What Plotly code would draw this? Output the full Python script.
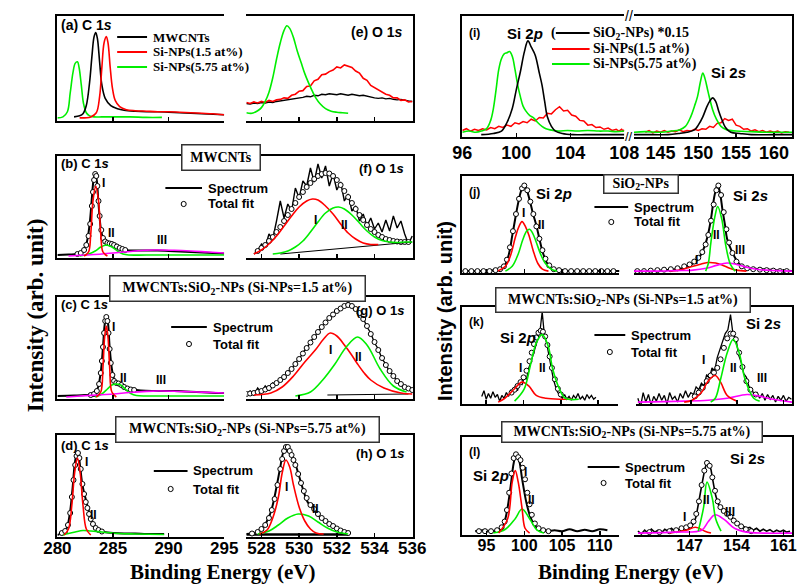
import plotly.graph_objects as go

W, H = 809, 588

# ======================= DATA =======================
# ---- (a) C 1s overview ----
A_MWCNT_X = [281.5, 282.0, 282.3, 282.6, 282.9, 283.1, 283.3, 283.45, 283.6, 283.8, 284.0, 284.3, 284.8, 285.4, 286.0, 287.0, 288.0, 289.0, 290.0, 291.0, 292.0, 293.0, 294.0, 295.0]
A_MWCNT_Y = [0.02, 0.03, 0.05, 0.13, 0.36, 0.6, 0.8, 0.84, 0.78, 0.55, 0.33, 0.2, 0.13, 0.1, 0.085, 0.075, 0.07, 0.07, 0.065, 0.06, 0.055, 0.05, 0.045, 0.04]
A_SI15_X = [282.0, 283.0, 283.5, 283.8, 284.0, 284.2, 284.4, 284.55, 284.75, 284.95, 285.2, 285.6, 286.2, 287.0, 288.0, 289.0, 290.0, 291.0, 292.0, 293.0, 294.0, 295.0]
A_SI15_Y = [0.01, 0.02, 0.06, 0.22, 0.5, 0.74, 0.80, 0.74, 0.5, 0.3, 0.18, 0.12, 0.09, 0.08, 0.075, 0.07, 0.07, 0.065, 0.06, 0.055, 0.05, 0.04]
A_SI575_X = [280.0, 280.5, 280.9, 281.15, 281.4, 281.6, 281.8, 281.95, 282.15, 282.35, 282.6, 282.9, 283.3, 284.0, 285.0, 286.5, 288.0, 289.4]
A_SI575_Y = [0.01, 0.02, 0.07, 0.25, 0.45, 0.54, 0.555, 0.5, 0.33, 0.15, 0.06, 0.03, 0.02, 0.02, 0.02, 0.02, 0.015, 0.015]

# ---- (e) O 1s overview ----
E_X = [527.2, 527.4, 527.6, 527.8, 528.0, 528.2, 528.4, 528.6, 528.8, 529.0, 529.2, 529.4, 529.6, 529.8, 530.0, 530.2, 530.4, 530.6, 530.8, 531.0, 531.2, 531.4, 531.6, 531.8, 532.0, 532.2, 532.4, 532.6, 532.8, 533.0, 533.2, 533.4, 533.6, 533.8, 534.0, 534.2, 534.4, 534.6, 534.8, 535.0, 535.2, 535.4, 535.6, 535.8, 536.0]
E_SI15_Y = [0.16, 0.15, 0.165, 0.155, 0.17, 0.16, 0.18, 0.17, 0.185, 0.19, 0.205, 0.2, 0.23, 0.24, 0.27, 0.275, 0.315, 0.32, 0.37, 0.385, 0.43, 0.435, 0.46, 0.475, 0.505, 0.495, 0.525, 0.51, 0.5, 0.465, 0.445, 0.395, 0.375, 0.325, 0.305, 0.28, 0.265, 0.24, 0.23, 0.205, 0.205, 0.18, 0.185, 0.165, 0.17]
E_MWCNT_Y = [0.15, 0.145, 0.155, 0.15, 0.16, 0.155, 0.165, 0.16, 0.17, 0.175, 0.18, 0.185, 0.19, 0.2, 0.205, 0.21, 0.22, 0.215, 0.23, 0.225, 0.24, 0.235, 0.245, 0.24, 0.235, 0.245, 0.24, 0.23, 0.24, 0.235, 0.225, 0.23, 0.22, 0.21, 0.205, 0.2, 0.205, 0.195, 0.2, 0.19, 0.185, 0.19, 0.18, 0.175, 0.17]
E_SI575_X = [527.2, 527.5, 527.8, 528.0, 528.2, 528.4, 528.6, 528.8, 529.0, 529.2, 529.35, 529.5, 529.7, 529.9, 530.1, 530.3, 530.5, 530.7, 530.9, 531.1, 531.4, 531.7, 532.0, 532.3, 532.6]
E_SI575_Y = [0.06, 0.055, 0.08, 0.11, 0.17, 0.26, 0.4, 0.58, 0.74, 0.86, 0.905, 0.88, 0.79, 0.66, 0.55, 0.44, 0.35, 0.27, 0.2, 0.15, 0.1, 0.075, 0.065, 0.06, 0.055]

# ---- (b) C 1s MWCNTs ----
B_SPEC_X = [280.0, 281.0, 281.8, 282.2, 282.6, 282.9, 283.1, 283.25, 283.4, 283.55, 283.7, 283.9, 284.1, 284.3, 284.6, 284.9, 285.2, 285.6, 286.0, 286.5, 287.0, 288.0, 289.0, 290.0, 291.0, 292.0, 293.0, 294.0, 295.0]
B_SPEC_Y = [0.01, 0.015, 0.02, 0.04, 0.12, 0.32, 0.58, 0.76, 0.83, 0.75, 0.52, 0.28, 0.18, 0.15, 0.13, 0.12, 0.1, 0.075, 0.06, 0.055, 0.055, 0.055, 0.055, 0.05, 0.045, 0.04, 0.035, 0.03, 0.025]
B_FIT_X = [281.8, 282.1, 282.4, 282.6, 282.8, 282.95, 283.1, 283.2, 283.3, 283.4, 283.5, 283.6, 283.7, 283.8, 283.95, 284.1, 284.3, 284.5, 284.7, 284.9, 285.1, 285.35, 285.6, 285.85, 286.1]
B_FIT_Y = [0.02, 0.03, 0.06, 0.11, 0.2, 0.32, 0.5, 0.64, 0.76, 0.82, 0.8, 0.7, 0.55, 0.4, 0.26, 0.18, 0.145, 0.13, 0.125, 0.12, 0.11, 0.095, 0.08, 0.07, 0.06]
B_I_X = [282.4, 282.8, 283.0, 283.2, 283.45, 283.7, 283.9, 284.1, 284.5]
B_I_Y = [0.0, 0.04, 0.22, 0.55, 0.70, 0.55, 0.22, 0.04, 0.0]
B_II_X = [282.0, 282.8, 283.4, 283.9, 284.4, 284.9, 285.4, 285.9, 286.4, 288.0, 291.0, 295.0]
B_II_Y = [0.0, 0.02, 0.05, 0.09, 0.11, 0.09, 0.05, 0.02, 0.01, 0.01, 0.01, 0.01]
B_III_X = [281.0, 282.5, 284.0, 285.5, 287.0, 288.8, 290.5, 292.0, 293.5, 295.0]
B_III_Y = [0.0, 0.01, 0.02, 0.035, 0.05, 0.06, 0.057, 0.05, 0.04, 0.03]

# ---- (f) O 1s MWCNTs ----
F_SPEC_X = [527.6, 527.8, 528.0, 528.2, 528.4, 528.6, 528.8, 529.0, 529.2, 529.4, 529.6, 529.8, 530.0, 530.2, 530.4, 530.6, 530.8, 531.0, 531.2, 531.4, 531.6, 531.8, 532.0, 532.2, 532.4, 532.6, 532.8, 533.0, 533.2, 533.4, 533.6, 533.8, 534.0, 534.2, 534.4, 534.6, 534.8, 535.0, 535.2, 535.4, 535.6, 535.8, 536.0]
F_SPEC_Y = [0.02, 0.05, 0.12, 0.09, 0.22, 0.17, 0.35, 0.55, 0.38, 0.52, 0.45, 0.68, 0.58, 0.75, 0.70, 0.88, 0.74, 0.92, 0.78, 0.90, 0.70, 0.82, 0.66, 0.74, 0.55, 0.62, 0.45, 0.50, 0.35, 0.42, 0.30, 0.38, 0.27, 0.33, 0.24, 0.36, 0.25, 0.40, 0.28, 0.35, 0.22, 0.12, 0.20]
F_FIT_X = [527.8, 528.0, 528.2, 528.4, 528.6, 528.8, 529.0, 529.2, 529.4, 529.6, 529.8, 530.0, 530.2, 530.4, 530.6, 530.8, 531.0, 531.2, 531.4, 531.6, 531.8, 532.0, 532.2, 532.4, 532.6, 532.8, 533.0, 533.2, 533.4, 533.6, 533.8, 534.0, 534.2, 534.4, 534.6, 534.8, 535.0, 535.2, 535.4, 535.6, 535.8]
F_FIT_Y = [0.05, 0.08, 0.11, 0.15, 0.19, 0.24, 0.29, 0.35, 0.41, 0.47, 0.53, 0.59, 0.64, 0.69, 0.73, 0.77, 0.80, 0.82, 0.83, 0.825, 0.80, 0.76, 0.71, 0.65, 0.59, 0.53, 0.47, 0.41, 0.36, 0.31, 0.27, 0.24, 0.21, 0.19, 0.17, 0.16, 0.15, 0.145, 0.14, 0.14, 0.14]
F_I_X = [527.6, 528.0, 528.4, 528.8, 529.2, 529.6, 530.0, 530.4, 530.7, 531.0, 531.4, 531.8, 532.2, 532.6, 533.0, 533.4, 533.8, 534.2]
F_I_Y = [0.02, 0.06, 0.12, 0.2, 0.3, 0.4, 0.49, 0.55, 0.57, 0.56, 0.5, 0.42, 0.32, 0.23, 0.17, 0.13, 0.115, 0.115]
F_II_X = [528.6, 529.0, 529.4, 529.8, 530.2, 530.6, 531.0, 531.4, 531.8, 532.1, 532.4, 532.8, 533.2, 533.6, 534.0, 534.4, 534.8, 535.2, 535.6, 536.0]
F_II_Y = [0.02, 0.03, 0.05, 0.09, 0.15, 0.24, 0.34, 0.43, 0.48, 0.49, 0.47, 0.41, 0.33, 0.25, 0.19, 0.155, 0.14, 0.135, 0.14, 0.14]
F_BG_X = [529.0, 536.0]
F_BG_Y = [0.02, 0.14]

# ---- (c) C 1s, Si-NPs 1.5 at% ----
C_SPEC_X = [280.0, 281.5, 282.5, 283.2, 283.6, 283.9, 284.1, 284.25, 284.4, 284.55, 284.7, 284.9, 285.1, 285.3, 285.6, 285.9, 286.3, 286.8, 287.5, 288.5, 289.5, 290.5, 291.5, 292.5, 293.5, 294.5, 295.0]
C_SPEC_Y = [0.01, 0.015, 0.02, 0.03, 0.08, 0.25, 0.5, 0.72, 0.81, 0.74, 0.5, 0.28, 0.18, 0.15, 0.14, 0.12, 0.09, 0.075, 0.065, 0.06, 0.06, 0.06, 0.055, 0.05, 0.045, 0.04, 0.04]
C_FIT_X = [283.0, 283.3, 283.55, 283.75, 283.9, 284.0, 284.1, 284.2, 284.3, 284.4, 284.5, 284.6, 284.7, 284.8, 284.95, 285.1, 285.3, 285.5, 285.75, 286.0, 286.3, 286.6, 286.9]
C_FIT_Y = [0.02, 0.03, 0.06, 0.13, 0.24, 0.36, 0.5, 0.64, 0.76, 0.8, 0.76, 0.64, 0.48, 0.34, 0.22, 0.16, 0.14, 0.135, 0.12, 0.1, 0.085, 0.075, 0.07]
C_I_X = [283.5, 283.9, 284.1, 284.25, 284.4, 284.55, 284.7, 284.9, 285.3]
C_I_Y = [0.0, 0.05, 0.3, 0.6, 0.71, 0.6, 0.3, 0.05, 0.0]
C_II_X = [283.4, 284.0, 284.5, 284.9, 285.3, 285.7, 286.1, 286.6, 287.1, 288.0, 290.0, 292.5, 295.0]
C_II_Y = [0.0, 0.03, 0.08, 0.12, 0.13, 0.12, 0.08, 0.035, 0.015, 0.01, 0.01, 0.01, 0.01]
C_III_X = [280.8, 282.0, 283.5, 285.0, 286.5, 288.0, 289.1, 290.5, 292.0, 293.5, 295.0]
C_III_Y = [0.0, 0.01, 0.02, 0.03, 0.045, 0.056, 0.06, 0.058, 0.052, 0.046, 0.04]

# ---- (g) O 1s, Si-NPs 1.5 at% ----
G_X = [527.2, 527.4, 527.6, 527.8, 528.0, 528.2, 528.4, 528.6, 528.8, 529.0, 529.2, 529.4, 529.6, 529.8, 530.0, 530.2, 530.4, 530.6, 530.8, 531.0, 531.2, 531.4, 531.6, 531.8, 532.0, 532.2, 532.4, 532.6, 532.8, 533.0, 533.2, 533.4, 533.6, 533.8, 534.0, 534.2, 534.4, 534.6, 534.8, 535.0, 535.2, 535.4, 535.6, 535.8, 536.0]
G_SPEC_Y = [0.01, 0.06, 0.02, 0.09, 0.04, 0.11, 0.07, 0.14, 0.12, 0.19, 0.18, 0.26, 0.27, 0.35, 0.37, 0.45, 0.48, 0.56, 0.59, 0.66, 0.69, 0.76, 0.78, 0.84, 0.85, 0.9, 0.9, 0.95, 0.9, 0.89, 0.83, 0.79, 0.7, 0.64, 0.54, 0.48, 0.38, 0.33, 0.25, 0.22, 0.15, 0.14, 0.09, 0.1, 0.06]
G_FIT_Y = [0.03, 0.035, 0.04, 0.05, 0.06, 0.075, 0.09, 0.115, 0.14, 0.17, 0.2, 0.24, 0.28, 0.33, 0.38, 0.435, 0.49, 0.545, 0.6, 0.65, 0.7, 0.745, 0.79, 0.825, 0.86, 0.885, 0.91, 0.92, 0.91, 0.88, 0.84, 0.78, 0.71, 0.63, 0.55, 0.47, 0.39, 0.32, 0.26, 0.21, 0.16, 0.13, 0.1, 0.085, 0.07]
G_I_X = [527.6, 528.5, 529.1, 529.7, 530.3, 530.9, 531.3, 531.65, 532.0, 532.4, 532.75, 533.1, 533.45, 533.8, 534.5, 535.4, 536.0]
G_I_Y = [0.02, 0.04, 0.1, 0.21, 0.35, 0.48, 0.58, 0.64, 0.61, 0.52, 0.43, 0.33, 0.24, 0.17, 0.09, 0.04, 0.03]
G_II_X = [529.8, 530.6, 531.25, 531.9, 532.5, 533.1, 533.6, 534.3, 535.0, 535.7]
G_II_Y = [0.01, 0.05, 0.17, 0.33, 0.5, 0.6, 0.52, 0.28, 0.11, 0.05]
G_BG_X = [531.5, 535.8]
G_BG_Y = [0.02, 0.03]

# ---- (d) C 1s, Si-NPs 5.75 at% ----
D_SPEC_X = [280.0, 280.4, 280.8, 281.1, 281.35, 281.55, 281.7, 281.8, 281.9, 282.05, 282.25, 282.5, 282.75, 283.0, 283.3, 283.7, 284.2, 285.0, 286.0, 287.0, 288.0, 289.0, 289.6]
D_SPEC_Y = [0.0, 0.02, 0.06, 0.2, 0.45, 0.7, 0.8, 0.82, 0.8, 0.68, 0.5, 0.38, 0.27, 0.17, 0.08, 0.045, 0.03, 0.02, 0.015, 0.015, 0.01, 0.01, 0.01]
D_FIT_X = [280.4, 280.7, 280.95, 281.15, 281.3, 281.45, 281.6, 281.72, 281.85, 281.98, 282.1, 282.25, 282.4, 282.55, 282.7, 282.85, 283.0, 283.2, 283.45, 283.7, 284.0]
D_FIT_Y = [0.02, 0.04, 0.1, 0.22, 0.38, 0.55, 0.7, 0.79, 0.82, 0.77, 0.66, 0.51, 0.41, 0.33, 0.27, 0.21, 0.16, 0.11, 0.07, 0.05, 0.035]
D_I_X = [280.6, 281.0, 281.3, 281.55, 281.8, 282.05, 282.3, 282.6, 283.0]
D_I_Y = [0.0, 0.06, 0.3, 0.62, 0.77, 0.62, 0.3, 0.06, 0.0]
D_II_X = [280.5, 281.0, 281.6, 282.3, 283.0, 284.0, 285.5, 287.0, 289.6]
D_II_Y = [0.0, 0.015, 0.03, 0.045, 0.04, 0.03, 0.015, 0.01, 0.005]

# ---- (h) O 1s, Si-NPs 5.75 at% ----
H_SPEC_X = [527.2, 527.5, 527.8, 528.1, 528.4, 528.6, 528.8, 529.0, 529.15, 529.35, 529.55, 529.75, 529.95, 530.2, 530.45, 530.7, 531.0, 531.3, 531.6, 531.9, 532.2, 532.6]
H_SPEC_Y = [0.01, 0.015, 0.03, 0.08, 0.18, 0.3, 0.48, 0.68, 0.82, 0.89, 0.83, 0.74, 0.62, 0.46, 0.33, 0.27, 0.2, 0.15, 0.11, 0.08, 0.05, 0.02]
H_FIT_X = [527.5, 527.8, 528.0, 528.2, 528.4, 528.55, 528.7, 528.85, 529.0, 529.1, 529.2, 529.3, 529.4, 529.5, 529.6, 529.7, 529.8, 529.95, 530.1, 530.25, 530.4, 530.6, 530.8, 531.0, 531.2, 531.4, 531.6, 531.8, 532.0, 532.2, 532.4, 532.6]
H_FIT_Y = [0.015, 0.03, 0.06, 0.1, 0.17, 0.25, 0.36, 0.5, 0.66, 0.76, 0.84, 0.88, 0.88, 0.84, 0.8, 0.75, 0.7, 0.61, 0.52, 0.44, 0.37, 0.3, 0.26, 0.21, 0.17, 0.14, 0.11, 0.09, 0.065, 0.045, 0.03, 0.02]
H_I_X = [527.9, 528.3, 528.6, 528.9, 529.1, 529.3, 529.5, 529.7, 530.0, 530.3, 530.6, 530.9, 531.3]
H_I_Y = [0.01, 0.05, 0.17, 0.38, 0.62, 0.75, 0.68, 0.5, 0.28, 0.14, 0.06, 0.02, 0.01]
H_II_X = [527.8, 528.4, 528.9, 529.4, 529.95, 530.5, 531.0, 531.5, 532.0, 532.6]
H_II_Y = [0.01, 0.04, 0.1, 0.17, 0.21, 0.19, 0.13, 0.07, 0.03, 0.01]
H_BG_X = [527.2, 532.6]
H_BG_Y = [0.005, 0.005]

# ---- (i) Si 2p / Si 2s overview ----
IL_SIO2_X = [97.4, 98.3, 98.9, 99.3, 99.7, 100.0, 100.3, 100.6, 100.86, 101.1, 101.4, 101.7, 101.9, 102.1, 102.3, 102.6, 102.9, 103.4, 104.2, 105.1, 106.1, 107.0, 108.0]
IL_SIO2_Y = [0.0, 0.01, 0.03, 0.1, 0.22, 0.38, 0.53, 0.7, 0.79, 0.74, 0.67, 0.52, 0.42, 0.28, 0.15, 0.07, 0.03, 0.01, 0.0, 0.0, 0.0, 0.0, 0.0]
IL_SI575_X = [96.0, 96.5, 97.0, 97.4, 97.8, 98.1, 98.3, 98.5, 98.7, 98.9, 99.1, 99.3, 99.5, 99.7, 99.9, 100.1, 100.3, 100.5, 100.7, 101.0, 101.3, 101.6, 101.9, 102.2, 102.5, 103.1, 103.8, 104.5, 105.3, 106.1, 106.8, 107.4, 108.0]
IL_SI575_Y = [0.02, 0.03, 0.02, 0.03, 0.05, 0.12, 0.22, 0.38, 0.55, 0.64, 0.68, 0.69, 0.7, 0.66, 0.55, 0.42, 0.32, 0.24, 0.2, 0.16, 0.14, 0.1, 0.07, 0.05, 0.04, 0.03, 0.035, 0.03, 0.035, 0.03, 0.03, 0.025, 0.03]
IL_SI15_X = [96.0, 96.3, 96.6, 96.9, 97.2, 97.5, 97.8, 98.1, 98.4, 98.7, 99.0, 99.3, 99.6, 99.9, 100.2, 100.5, 100.8, 101.1, 101.4, 101.7, 102.0, 102.3, 102.6, 102.9, 103.2, 103.5, 103.8, 104.1, 104.4, 104.7, 105.0, 105.3, 105.6, 105.9, 106.2, 106.5, 106.8, 107.1, 107.4, 107.6, 107.8, 107.9, 108.0]
IL_SI15_Y = [0.035, 0.05, 0.03, 0.045, 0.035, 0.05, 0.04, 0.06, 0.05, 0.07, 0.06, 0.08, 0.07, 0.1, 0.09, 0.11, 0.1, 0.13, 0.115, 0.145, 0.14, 0.18, 0.175, 0.21, 0.235, 0.2, 0.205, 0.165, 0.155, 0.12, 0.115, 0.08, 0.085, 0.06, 0.065, 0.045, 0.055, 0.035, 0.045, 0.03, 0.045, 0.03, 0.04]
IR_SI575_X = [141.5, 143.0, 145.0, 146.5, 147.5, 148.3, 149.0, 149.5, 149.9, 150.3, 150.6, 150.9, 151.3, 151.9, 152.4, 153.0, 153.8, 155.0, 157.0, 159.0, 161.0, 162.4]
IR_SI575_Y = [0.02, 0.025, 0.02, 0.03, 0.04, 0.07, 0.15, 0.24, 0.32, 0.45, 0.52, 0.47, 0.36, 0.21, 0.13, 0.07, 0.04, 0.03, 0.025, 0.02, 0.02, 0.02]
IR_SIO2_X = [141.5, 144.0, 146.0, 147.5, 148.5, 149.5, 150.0, 150.6, 151.1, 151.5, 151.9, 152.3, 152.7, 153.1, 153.6, 154.3, 155.5, 157.0, 160.0, 162.4]
IR_SIO2_Y = [0.0, 0.0, 0.0, 0.01, 0.02, 0.04, 0.08, 0.15, 0.23, 0.28, 0.31, 0.28, 0.2, 0.13, 0.06, 0.02, 0.01, 0.0, 0.0, 0.0]
IR_SI15_X = [143.0, 143.5, 144.0, 144.5, 145.0, 145.5, 146.0, 146.5, 147.0, 147.5, 148.0, 148.5, 149.0, 149.5, 150.0, 150.5, 151.0, 151.5, 152.0, 152.5, 153.0, 153.5, 154.0, 154.5, 155.0, 155.5, 156.0, 156.5, 157.0, 157.5, 158.0, 158.5, 159.0, 159.5, 160.0, 160.5, 161.0, 161.5, 162.0]
IR_SI15_Y = [0.02, 0.035, 0.015, 0.03, 0.02, 0.035, 0.02, 0.03, 0.025, 0.04, 0.025, 0.035, 0.03, 0.045, 0.035, 0.05, 0.045, 0.07, 0.06, 0.095, 0.1, 0.135, 0.12, 0.13, 0.08, 0.07, 0.045, 0.05, 0.03, 0.04, 0.025, 0.035, 0.02, 0.03, 0.02, 0.03, 0.015, 0.025, 0.02]

# ---- (j) SiO2-NPs ----
JL_SPEC_X = [91.8, 93.0, 94.5, 96.0, 97.0, 97.5, 98.0, 98.4, 98.8, 99.2, 99.6, 99.96, 100.3, 100.7, 101.1, 101.6, 102.0, 102.4, 102.9, 103.5, 104.5, 106.0, 108.0, 110.0, 112.6]
JL_SPEC_Y = [0.0, 0.0, 0.0, 0.01, 0.03, 0.07, 0.19, 0.37, 0.55, 0.72, 0.85, 0.91, 0.86, 0.75, 0.62, 0.48, 0.34, 0.21, 0.1, 0.03, 0.01, 0.0, 0.0, 0.0, 0.0]
JL_FIT_X = [92.2, 93.0, 93.8, 94.6, 95.4, 96.2, 96.8, 97.3, 97.7, 98.1, 98.5, 98.9, 99.3, 99.7, 100.0, 100.4, 100.8, 101.2, 101.6, 102.0, 102.4, 102.8, 103.3, 103.9, 104.6, 105.4, 106.2, 107.0, 107.8, 108.6, 109.4, 110.2, 111.0, 111.8]
JL_FIT_Y = [0.0, 0.0, 0.0, 0.0, 0.0, 0.01, 0.02, 0.05, 0.12, 0.25, 0.42, 0.6, 0.76, 0.87, 0.9, 0.85, 0.73, 0.6, 0.47, 0.34, 0.22, 0.13, 0.06, 0.02, 0.01, 0.0, 0.0, 0.0, 0.0, 0.0, 0.0, 0.0, 0.0, 0.0]
JL_I_X = [96.5, 97.5, 98.2, 98.8, 99.2, 99.7, 100.2, 100.6, 101.2, 101.8, 102.4, 103.2]
JL_I_Y = [0.0, 0.05, 0.17, 0.35, 0.45, 0.52, 0.46, 0.38, 0.21, 0.08, 0.02, 0.0]
JL_II_X = [97.5, 98.4, 99.2, 99.8, 100.3, 100.7, 101.1, 101.6, 102.2, 102.8, 103.6, 104.3]
JL_II_Y = [0.0, 0.05, 0.18, 0.33, 0.42, 0.44, 0.4, 0.3, 0.17, 0.08, 0.02, 0.0]
JR_SPEC_X = [138.7, 141.0, 143.0, 145.0, 146.5, 147.9, 148.6, 149.3, 149.8, 150.2, 150.5, 150.8, 151.2, 151.6, 151.9, 152.3, 152.6, 153.3, 154.5, 156.0, 158.0, 160.0, 162.3]
JR_SPEC_Y = [0.0, 0.0, 0.01, 0.02, 0.04, 0.1, 0.16, 0.27, 0.4, 0.55, 0.7, 0.82, 0.91, 0.8, 0.65, 0.48, 0.34, 0.21, 0.07, 0.03, 0.02, 0.01, 0.0]
JR_FIT_X = [139.2, 140.2, 141.2, 142.2, 143.2, 144.2, 145.2, 146.2, 147.0, 147.7, 148.3, 148.9, 149.4, 149.8, 150.2, 150.6, 151.0, 151.3, 151.7, 152.1, 152.5, 152.9, 153.4, 154.0, 154.8, 155.6, 156.5, 157.5, 158.5, 159.5, 160.5, 161.5]
JR_FIT_Y = [0.0, 0.0, 0.005, 0.01, 0.015, 0.02, 0.03, 0.05, 0.07, 0.1, 0.14, 0.2, 0.28, 0.38, 0.53, 0.7, 0.85, 0.9, 0.8, 0.62, 0.44, 0.3, 0.19, 0.1, 0.05, 0.03, 0.02, 0.015, 0.01, 0.005, 0.0, 0.0]
JR_I_X = [144.0, 145.5, 147.0, 148.5, 149.7, 150.9, 152.0, 153.0, 154.0, 155.5]
JR_I_Y = [0.0, 0.01, 0.04, 0.07, 0.09, 0.085, 0.06, 0.03, 0.01, 0.0]
JR_II_X = [149.4, 149.8, 150.2, 150.8, 151.2, 151.8, 152.4, 153.1, 153.8]
JR_II_Y = [0.0, 0.08, 0.31, 0.58, 0.68, 0.55, 0.27, 0.07, 0.0]
JR_III_X = [138.7, 142.0, 145.0, 147.5, 149.5, 151.0, 152.6, 154.0, 155.5, 157.5, 160.0, 162.3]
JR_III_Y = [0.0, 0.0, 0.005, 0.01, 0.03, 0.06, 0.085, 0.07, 0.04, 0.015, 0.005, 0.0]

# ---- (k) Si-NPs 1.5 at% ----
KL_SPEC_X = [94.4, 94.7, 95.0, 95.3, 95.6, 95.9, 96.2, 96.5, 96.8, 97.1, 97.4, 97.7, 98.0, 98.3, 98.6, 98.9, 99.2, 99.5, 99.8, 100.1, 100.4, 100.7, 101.0, 101.3, 101.6, 101.9, 102.2, 102.5, 102.8, 103.1, 103.4, 103.7, 104.0, 104.3, 104.6, 104.9, 105.2, 105.5, 105.8, 106.1, 106.4, 106.7, 107.0, 107.3, 107.6, 107.9, 108.2, 108.5, 108.8, 109.1, 109.4, 109.7]
KL_SPEC_Y = [0.06, 0.12, 0.03, 0.09, 0.04, 0.11, 0.05, 0.08, 0.01, 0.07, 0.04, 0.1, 0.06, 0.13, 0.09, 0.17, 0.12, 0.22, 0.18, 0.27, 0.24, 0.36, 0.42, 0.5, 0.6, 0.66, 0.74, 0.95, 0.7, 0.62, 0.48, 0.36, 0.24, 0.16, 0.1, 0.07, 0.04, 0.08, 0.03, 0.06, 0.02, 0.07, 0.04, 0.09, 0.03, 0.06, 0.02, 0.08, 0.04, 0.07, 0.03, 0.05]
KL_FIT_X = [98.4, 98.8, 99.2, 99.6, 100.0, 100.4, 100.8, 101.1, 101.4, 101.7, 102.0, 102.3, 102.6, 102.9, 103.2, 103.5, 103.8, 104.2, 104.6, 105.0]
KL_FIT_Y = [0.1, 0.13, 0.17, 0.21, 0.26, 0.33, 0.43, 0.52, 0.61, 0.68, 0.73, 0.75, 0.74, 0.69, 0.6, 0.48, 0.36, 0.24, 0.14, 0.08]
KL_I_X = [96.6, 97.3, 97.9, 98.8, 99.8, 100.7, 101.7, 103.0, 105.2, 106.5]
KL_I_Y = [0.0, 0.03, 0.07, 0.14, 0.21, 0.17, 0.07, 0.04, 0.03, 0.03]
KL_II_X = [98.8, 100.1, 100.9, 101.7, 102.5, 103.3, 103.9, 104.8, 105.6, 107.4]
KL_II_Y = [0.01, 0.14, 0.38, 0.62, 0.71, 0.59, 0.35, 0.14, 0.04, 0.03]
KR_SPEC_X = [139.0, 139.4, 139.8, 140.2, 140.6, 141.0, 141.4, 141.8, 142.2, 142.6, 143.0, 143.4, 143.8, 144.2, 144.6, 145.0, 145.4, 145.8, 146.2, 146.6, 147.0, 147.4, 147.8, 148.2, 148.6, 149.0, 149.4, 149.8, 150.2, 150.6, 151.0, 151.4, 151.8, 152.2, 152.6, 153.0, 153.4, 153.8, 154.2, 154.6, 155.0, 155.4, 155.8, 156.2, 156.6, 157.0, 157.4, 157.8, 158.2, 158.6, 159.0, 159.4, 159.8, 160.2, 160.6, 161.0, 161.4, 161.8, 162.2]
KR_SPEC_Y = [0.04, -0.05, 0.1, 0.0, 0.08, -0.03, 0.06, 0.01, 0.09, 0.02, 0.07, -0.02, 0.1, 0.03, 0.06, 0.0, 0.09, 0.04, 0.12, 0.05, 0.1, 0.08, 0.16, 0.13, 0.2, 0.17, 0.29, 0.25, 0.36, 0.33, 0.47, 0.55, 0.62, 0.72, 0.76, 0.92, 0.7, 0.68, 0.5, 0.42, 0.3, 0.26, 0.16, 0.14, 0.07, 0.1, 0.04, 0.09, 0.02, 0.08, 0.03, 0.07, 0.0, 0.06, 0.02, 0.07, 0.01, 0.05, 0.03]
KR_FIT_X = [147.6, 148.2, 148.8, 149.4, 150.0, 150.5, 151.0, 151.5, 152.0, 152.5, 153.0, 153.4, 153.8, 154.3, 154.8, 155.4, 156.0, 156.8]
KR_FIT_Y = [0.06, 0.1, 0.15, 0.22, 0.28, 0.31, 0.36, 0.45, 0.57, 0.67, 0.72, 0.72, 0.66, 0.52, 0.37, 0.22, 0.13, 0.08]
KR_I_X = [146.0, 147.2, 148.6, 149.6, 150.7, 151.5, 152.5, 154.0]
KR_I_Y = [0.0, 0.02, 0.1, 0.22, 0.28, 0.21, 0.07, 0.01]
KR_II_X = [150.0, 150.7, 151.5, 152.5, 153.4, 154.3, 155.2, 156.5, 157.4]
KR_II_Y = [0.0, 0.04, 0.24, 0.52, 0.66, 0.52, 0.24, 0.04, 0.01]
KR_III_X = [139.0, 143.0, 146.0, 149.6, 152.5, 155.5, 157.5, 159.4, 162.3]
KR_III_Y = [0.0, 0.005, 0.01, 0.02, 0.04, 0.08, 0.06, 0.03, 0.0]

# ---- (l) Si-NPs 5.75 at% ----
LL_SPEC_X = [93.5, 94.6, 95.5, 96.6, 97.1, 97.5, 97.9, 98.2, 98.6, 98.9, 99.3, 99.7, 100.3, 100.9, 101.7, 103.0, 104.0, 105.0, 106.0, 107.0, 108.0, 109.0, 110.0, 111.0]
LL_SPEC_Y = [0.02, 0.03, 0.02, 0.03, 0.06, 0.15, 0.32, 0.49, 0.73, 0.81, 0.76, 0.57, 0.31, 0.15, 0.05, 0.02, 0.03, 0.02, 0.04, 0.02, 0.035, 0.02, 0.04, 0.03]
LL_FIT_X = [94.0, 94.8, 95.6, 96.4, 97.0, 97.4, 97.7, 98.0, 98.3, 98.6, 98.9, 99.2, 99.5, 99.8, 100.1, 100.4, 100.7, 101.0, 101.4, 101.9, 102.5, 103.2]
LL_FIT_Y = [0.02, 0.02, 0.02, 0.03, 0.06, 0.12, 0.24, 0.42, 0.62, 0.78, 0.82, 0.79, 0.76, 0.68, 0.56, 0.42, 0.3, 0.19, 0.1, 0.05, 0.03, 0.02]
LL_I_X = [96.6, 97.8, 98.4, 98.8, 99.2, 99.7, 100.1, 100.7]
LL_I_Y = [0.0, 0.15, 0.53, 0.65, 0.53, 0.26, 0.05, 0.0]
LL_II_X = [95.9, 97.5, 98.8, 99.7, 100.7, 101.7, 102.6]
LL_II_Y = [0.0, 0.04, 0.15, 0.25, 0.15, 0.03, 0.0]
LR_SPEC_X = [139.3, 139.8, 140.3, 140.8, 141.3, 141.8, 142.3, 142.8, 143.3, 143.8, 144.3, 144.8, 145.3, 145.8, 146.3, 146.8, 147.3, 147.7, 148.0, 148.4, 148.8, 149.2, 149.6, 149.9, 150.2, 150.6, 150.9, 151.3, 151.7, 152.2, 152.7, 153.2, 153.7, 154.1, 154.5, 155.0, 155.5, 156.0, 156.5, 157.0, 157.5, 158.0, 158.5, 159.0, 159.5, 160.0, 160.5, 161.0, 161.5, 162.0]
LR_SPEC_Y = [0.02, -0.01, 0.03, 0.0, 0.04, 0.01, 0.03, 0.0, 0.04, 0.02, 0.05, 0.02, 0.04, 0.03, 0.05, 0.04, 0.07, 0.11, 0.18, 0.32, 0.49, 0.64, 0.75, 0.72, 0.66, 0.5, 0.39, 0.3, 0.25, 0.22, 0.2, 0.17, 0.14, 0.1, 0.08, 0.07, 0.05, 0.06, 0.03, 0.05, 0.02, 0.04, 0.02, 0.035, 0.01, 0.03, 0.015, 0.03, 0.01, 0.02]
LR_FIT_X = [141.0, 142.5, 144.0, 145.0, 145.8, 146.5, 147.1, 147.6, 148.0, 148.4, 148.8, 149.2, 149.6, 150.0, 150.4, 150.8, 151.2, 151.6, 152.1, 152.6, 153.1, 153.6, 154.1, 154.7, 155.4, 156.2]
LR_FIT_Y = [0.01, 0.01, 0.02, 0.03, 0.05, 0.06, 0.08, 0.12, 0.2, 0.33, 0.5, 0.65, 0.73, 0.7, 0.58, 0.44, 0.33, 0.27, 0.23, 0.2, 0.17, 0.13, 0.1, 0.07, 0.04, 0.02]
LR_I_X = [144.0, 146.5, 147.9, 149.3, 150.2]
LR_I_Y = [0.0, 0.03, 0.06, 0.02, 0.0]
LR_II_X = [148.3, 149.1, 149.6, 150.4, 150.9, 151.7]
LR_II_Y = [0.02, 0.27, 0.53, 0.36, 0.15, 0.02]
LR_III_X = [139.3, 145.0, 148.8, 149.8, 150.8, 152.2, 153.7, 155.5, 158.0, 162.3]
LR_III_Y = [0.0, 0.01, 0.03, 0.12, 0.19, 0.14, 0.05, 0.01, 0.0, 0.0]

# tick labels
C1S_TICKS = [280, 285, 290, 295]
O1S_TICKS = [528, 530, 532, 534, 536]
I_L_TICKS = [96, 100, 104, 108]
I_R_TICKS = [145, 150, 155, 160]
SI2P_TICKS = [95, 100, 105, 110]
SI2S_TICKS = [147, 154, 161]

# ======================= FIGURE =======================
SANS = "Liberation Sans"
SERIF = "Liberation Serif"
BLACK, RED, GREEN, MAG = "#000000", "#ff0000", "#00ee00", "#ff00ff"


def X(px):
    return px / W


def Y(py):
    return 1 - py / H


C1S_R = [280, 295]
O1S_R = [527.2, 536.05]
SI2P_R = [91.8, 112.6]
SI2S_R = [138.7, 162.3]

# key: (x0, x1, y0, y1 [px], xrange, y-line side, tickvals, show labels, label size, standoff)
PANELS = [
    ("a", 45, 218, 16, 121, C1S_R, "left", C1S_TICKS, False, 16, -5),
    ("e", 241, 414, 16, 121, O1S_R, "right", O1S_TICKS, False, 16, -5),
    ("b", 45, 218, 156, 258, C1S_R, "left", C1S_TICKS, False, 16, -5),
    ("f", 241, 414, 156, 258, O1S_R, "right", O1S_TICKS, False, 16, -5),
    ("c", 45, 218, 297, 399, C1S_R, "left", C1S_TICKS, False, 16, -5),
    ("g", 241, 414, 297, 399, O1S_R, "right", O1S_TICKS, False, 16, -5),
    ("d", 45, 218, 435, 537, C1S_R, "left", C1S_TICKS, True, 17, -5),
    ("h", 241, 414, 435, 537, O1S_R, "right", O1S_TICKS, True, 17, -5),
    ("iL", 465, 633, 16, 137, [96.0, 108.0], "left", I_L_TICKS, True, 18, -2),
    ("iR", 643, 807, 16, 137, [141.5, 162.4], "right", I_R_TICKS, True, 18, -2),
    ("jL", 465, 628, 176, 273, SI2P_R, "left", SI2P_TICKS, False, 16, -5),
    ("jR", 643, 807, 176, 273, SI2S_R, "right", SI2S_TICKS, False, 16, -5),
    ("kL", 465, 626, 307, 404, SI2P_R, "left", SI2P_TICKS, False, 16, -5),
    ("kR", 645, 807, 307, 404, SI2S_R, "right", SI2S_TICKS, False, 16, -5),
    ("lL", 465, 628, 437, 535, SI2P_R, "left", SI2P_TICKS, True, 16, -5),
    ("lR", 643, 807, 437, 535, SI2S_R, "right", SI2S_TICKS, True, 16, -5),
]

fig = go.Figure()
AXREF = {}
layout_axes = {}
for i, (key, x0, x1, y0, y1, xr, side, tv, showlab, lsize, stand) in enumerate(PANELS):
    k = i + 1
    sfx = "" if k == 1 else str(k)
    AXREF[key] = ("x" + sfx, "y" + sfx)
    layout_axes["xaxis" + sfx] = dict(
        domain=[X(x0), X(x1)], range=xr, anchor="y" + sfx,
        showline=True, linecolor=BLACK, linewidth=2, mirror=True,
        ticks="inside", ticklen=4, tickwidth=1.5, tickcolor=BLACK,
        tickmode="array", tickvals=tv, showticklabels=showlab,
        ticklabelstandoff=stand,
        tickfont=dict(family=SANS, size=lsize, color=BLACK, weight="bold"),
        showgrid=False, zeroline=False, fixedrange=True,
    )
    layout_axes["yaxis" + sfx] = dict(
        domain=[Y(y1), Y(y0)], range=[-0.02, 1.0], anchor="x" + sfx, side=side,
        showline=True, linecolor=BLACK, linewidth=2, ticks="",
        showticklabels=False, showgrid=False, zeroline=False, fixedrange=True,
    )


def line(key, x, y, color, width=1.6, shape="spline"):
    xa, ya = AXREF[key]
    fig.add_trace(go.Scatter(x=x, y=y, xaxis=xa, yaxis=ya, mode="lines",
                             line=dict(color=color, width=width, shape=shape),
                             showlegend=False, hoverinfo="skip"))


def fit(key, x, y):
    xa, ya = AXREF[key]
    fig.add_trace(go.Scatter(x=x, y=y, xaxis=xa, yaxis=ya, mode="markers",
                             marker=dict(symbol="circle", size=5, color="white",
                                         line=dict(color=BLACK, width=1)),
                             showlegend=False, hoverinfo="skip"))


# (a)
line("a", A_SI575_X, A_SI575_Y, GREEN)
line("a", A_MWCNT_X, A_MWCNT_Y, BLACK)
line("a", A_SI15_X, A_SI15_Y, RED)
# (e)
line("e", E_X, E_MWCNT_Y, BLACK, 1.4, "linear")
line("e", E_X, E_SI15_Y, RED, 1.6, "linear")
line("e", E_SI575_X, E_SI575_Y, GREEN)
# (b)
line("b", B_SPEC_X, B_SPEC_Y, BLACK, 2)
fit("b", B_FIT_X, B_FIT_Y)
line("b", B_II_X, B_II_Y, GREEN)
line("b", B_III_X, B_III_Y, MAG)
line("b", B_I_X, B_I_Y, RED)
# (f)
line("f", F_SPEC_X, F_SPEC_Y, BLACK, 1.4, "linear")
fit("f", F_FIT_X, F_FIT_Y)
line("f", F_BG_X, F_BG_Y, BLACK, 1.2, "linear")
line("f", F_I_X, F_I_Y, RED)
line("f", F_II_X, F_II_Y, GREEN)
# (c)
line("c", C_SPEC_X, C_SPEC_Y, BLACK, 2)
fit("c", C_FIT_X, C_FIT_Y)
line("c", C_II_X, C_II_Y, GREEN)
line("c", C_III_X, C_III_Y, MAG)
line("c", C_I_X, C_I_Y, RED)
# (g)
line("g", G_X, G_SPEC_Y, BLACK, 1.4, "linear")
fit("g", G_X, G_FIT_Y)
line("g", G_BG_X, G_BG_Y, BLACK, 1.2, "linear")
line("g", G_I_X, G_I_Y, RED)
line("g", G_II_X, G_II_Y, GREEN)
# (d)
line("d", D_SPEC_X, D_SPEC_Y, BLACK, 2)
fit("d", D_FIT_X, D_FIT_Y)
line("d", D_II_X, D_II_Y, GREEN)
line("d", D_I_X, D_I_Y, RED)
# (h)
line("h", H_BG_X, H_BG_Y, BLACK, 2.5, "linear")
line("h", H_SPEC_X, H_SPEC_Y, BLACK, 2)
fit("h", H_FIT_X, H_FIT_Y)
line("h", H_II_X, H_II_Y, GREEN)
line("h", H_I_X, H_I_Y, RED)
# (i)
line("iL", IL_SI15_X, IL_SI15_Y, RED, 1.5, "linear")
line("iL", IL_SI575_X, IL_SI575_Y, GREEN)
line("iL", IL_SIO2_X, IL_SIO2_Y, BLACK)
line("iR", IR_SI15_X, IR_SI15_Y, RED, 1.5, "linear")
line("iR", IR_SI575_X, IR_SI575_Y, GREEN)
line("iR", IR_SIO2_X, IR_SIO2_Y, BLACK)
# (j)
line("jL", JL_SPEC_X, JL_SPEC_Y, BLACK, 2)
fit("jL", JL_FIT_X, JL_FIT_Y)
line("jL", JL_I_X, JL_I_Y, RED)
line("jL", JL_II_X, JL_II_Y, GREEN)
line("jR", JR_SPEC_X, JR_SPEC_Y, BLACK, 2)
fit("jR", JR_FIT_X, JR_FIT_Y)
line("jR", JR_I_X, JR_I_Y, RED)
line("jR", JR_III_X, JR_III_Y, MAG)
line("jR", JR_II_X, JR_II_Y, GREEN)
# (k)
line("kL", KL_SPEC_X, KL_SPEC_Y, BLACK, 1.3, "linear")
fit("kL", KL_FIT_X, KL_FIT_Y)
line("kL", KL_I_X, KL_I_Y, RED)
line("kL", KL_II_X, KL_II_Y, GREEN)
line("kR", KR_SPEC_X, KR_SPEC_Y, BLACK, 1.3, "linear")
fit("kR", KR_FIT_X, KR_FIT_Y)
line("kR", KR_III_X, KR_III_Y, MAG)
line("kR", KR_I_X, KR_I_Y, RED)
line("kR", KR_II_X, KR_II_Y, GREEN)
# (l)
line("lL", LL_SPEC_X, LL_SPEC_Y, BLACK, 2)
fit("lL", LL_FIT_X, LL_FIT_Y)
line("lL", LL_II_X, LL_II_Y, GREEN)
line("lL", LL_I_X, LL_I_Y, RED)
line("lR", LR_SPEC_X, LR_SPEC_Y, BLACK, 1.6, "linear")
fit("lR", LR_FIT_X, LR_FIT_Y)
line("lR", LR_I_X, LR_I_Y, RED)
line("lR", LR_III_X, LR_III_Y, MAG)
line("lR", LR_II_X, LR_II_Y, GREEN)

# ======================= ANNOTATIONS =======================
ann = []
shapes = []


def txt(px, py, text, size=13, family=SANS, xanchor="left", angle=0, **kw):
    ann.append(dict(x=X(px), y=Y(py), xref="paper", yref="paper", text=text,
                    showarrow=False, xanchor=xanchor, yanchor="middle",
                    textangle=angle, font=dict(family=family, size=size, color=BLACK), **kw))


def box(cx, cy, w, h, text, size=14):
    ann.append(dict(x=X(cx), y=Y(cy), xref="paper", yref="paper",
                    text="<b>" + text + "</b>", showarrow=False,
                    xanchor="center", yanchor="middle", width=w - 8, height=h - 8,
                    bgcolor="white", bordercolor="#333333", borderwidth=1.5, borderpad=2.5,
                    font=dict(family=SERIF, size=size, color=BLACK)))


def lsample(xa, xb, py, color, width=2):
    shapes.append(dict(type="line", xref="paper", yref="paper", x0=X(xa), x1=X(xb),
                       y0=Y(py), y1=Y(py), line=dict(color=color, width=width)))


def csample(cx, cy, r=2.6):
    shapes.append(dict(type="circle", xref="paper", yref="paper",
                       x0=X(cx - r), x1=X(cx + r), y0=Y(cy + r), y1=Y(cy - r),
                       fillcolor="white", line=dict(color=BLACK, width=1)))


def spec_legend(x0, x1, y1, y2):
    lsample(x0, x1, y1, BLACK, 2)
    csample((x0 + x1) / 2, y2)
    txt(x1 + 4, y1, "<b>Spectrum</b>", 13)
    txt(x1 + 4, y2, "<b>Total fit</b>", 13)


# panel labels
txt(47, 25, "<b>(a) C 1<i>s</i></b>", 14)
txt(406, 32, "<b>(e) O 1<i>s</i></b>", 14, xanchor="right")
txt(47, 163, "<b>(b) C 1<i>s</i></b>", 13)
txt(407, 168, "<b>(f) O 1<i>s</i></b>", 13, xanchor="right")
txt(47, 304, "<b>(c) C 1<i>s</i></b>", 13)
txt(407, 310, "<b>(g) O 1<i>s</i></b>", 13, xanchor="right")
txt(47, 445, "<b>(d) C 1<i>s</i></b>", 13)
txt(407, 453, "<b>(h) O 1<i>s</i></b>", 13, xanchor="right")
txt(470, 33, "<b>(i)</b>", 12)
txt(509, 33, "<b>Si 2<i>p</i></b>", 15)
txt(721, 72, "<b>Si 2<i>s</i></b>", 15)
txt(470, 192, "<b>(j)</b>", 12)
txt(539, 193, "<b>Si 2<i>p</i></b>", 15)
txt(744, 195, "<b>Si 2<i>s</i></b>", 15)
txt(470, 322, "<b>(k)</b>", 12)
txt(502, 337, "<b>Si 2<i>p</i></b>", 15)
txt(757, 323, "<b>Si 2<i>s</i></b>", 15)
txt(470, 452, "<b>(l)</b>", 12)
txt(474, 475, "<b>Si 2<i>p</i></b>", 15)
txt(741, 458, "<b>Si 2<i>s</i></b>", 15)

# peak labels
PEAK_LABELS = [
    (93, 183, "I"), (101, 233, "II"), (154, 240, "III"),
    (103, 327, "I"), (114, 378, "II"), (152, 380, "III"),
    (75, 462, "I"), (82, 515, "II"),
    (313, 220, "I"), (343, 225, "II"),
    (328, 350, "I"), (357, 357, "II"),
    (283, 487, "I"), (313, 509, "II"),
    (528, 213, "I"), (547, 225, "II"), (708, 260, "I"), (729, 235, "II"), (753, 250, "III"),
    (525, 368, "I"), (548, 368, "II"), (715, 360, "I"), (746, 368, "II"), (776, 378, "III"),
    (530, 472, "I"), (537, 500, "II"), (695, 517, "I"), (718, 500, "II"), (743, 512, "III"),
]
for px, py, t in PEAK_LABELS:
    txt(px, py, "<b>" + t + "</b>", 12, xanchor="center")

# legend (a)
lsample(107, 138, 37, BLACK)
lsample(107, 138, 52, RED)
lsample(107, 138, 67, GREEN)
txt(142, 37, "<b>MWCNTs</b>", 13, SERIF)
txt(142, 52, "<b>Si-NPs(1.5 at%)</b>", 13, SERIF)
txt(142, 67, "<b>Si-NPs(5.75 at%)</b>", 13, SERIF)

# legend (i)
txt(555, 33, "<b>(</b>", 14, SERIF)
lsample(562, 597, 33, BLACK)
lsample(558, 597, 49, RED)
lsample(558, 597, 64, GREEN)
txt(598, 33, "<b>SiO<sub>2</sub>-NPs) *0.15</b>", 14, SERIF)
txt(598, 49, "<b>Si-NPs(1.5 at%)</b>", 14, SERIF)
txt(598, 64, "<b>Si-NPs(5.75 at%)</b>", 14, SERIF)

# spectrum / total fit legends
spec_legend(157, 195, 188, 204)
spec_legend(163, 200, 327, 344)
spec_legend(145, 180, 471, 489)
spec_legend(602, 637, 207, 222)
spec_legend(602, 634, 335, 352)
spec_legend(595, 628, 467, 483)

# sample boxes
box(215, 158, 80, 27, "MWCNTs")
box(232, 288, 257, 27, "MWCNTs:SiO<sub>2</sub>-NPs (Si-NPs=1.5 at%)")
box(242, 429, 265, 27, "MWCNTs:SiO<sub>2</sub>-NPs (Si-NPs=5.75 at%)")
box(650, 184, 76, 20, "SiO<sub>2</sub>-NPs")
box(632, 300, 256, 26, "MWCNTs:SiO<sub>2</sub>-NPs (Si-NPs=1.5 at%)")
box(641, 432, 262, 22, "MWCNTs:SiO<sub>2</sub>-NPs (Si-NPs=5.75 at%)")

# axis break marks
txt(638, 16, "//", 14, SANS, xanchor="center")
txt(638, 136, "//", 13, SANS, xanchor="center")

# axis titles
txt(22, 315, "<b>Intensity (arb. unit)</b>", 23, SERIF, xanchor="center", angle=-90)
txt(447, 311, "<b>Intensity (arb. unit)</b>", 20, SANS, xanchor="center", angle=-90)
txt(217, 572, "<b>Binding Energy (eV)</b>", 21, SERIF, xanchor="center")
txt(640, 572, "<b>Binding Energy (eV)</b>", 21, SERIF, xanchor="center")

fig.update_layout(
    width=W, height=H, margin=dict(l=0, r=0, t=0, b=0),
    paper_bgcolor="white", plot_bgcolor="white", showlegend=False,
    annotations=ann, shapes=shapes, **layout_axes,
)

fig.write_html("out.html", config={"displayModeBar": False, "staticPlot": True},
               post_script="document.body.style.margin='0';document.body.style.overflow='hidden';")
